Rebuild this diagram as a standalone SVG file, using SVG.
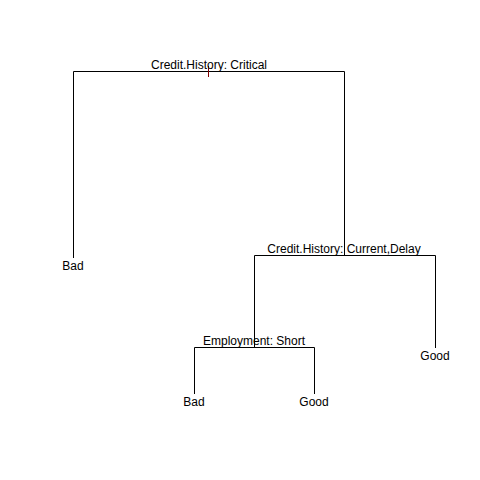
<svg xmlns="http://www.w3.org/2000/svg" width="480" height="480" viewBox="0 0 480 480">
<style>
text{font-family:"Liberation Sans",Arial,sans-serif;font-size:12px;fill:#000;text-anchor:middle}
.e{stroke:#000;stroke-width:1;fill:none}
</style>
<rect width="480" height="480" fill="#fff"/>
<g id="connectors">
<path class="e" d="M73.5,258V71.5H344.5V255"/>
<path class="e" d="M254.5,347V255.5H435.5V348"/>
<path class="e" d="M194.5,394V347.5H314.5V394"/>
<path d="M208.5,66V77" stroke="#800000" stroke-width="1"/>
</g>
<g id="n1"><text x="209" y="69">Credit.History: Critical</text></g>
<g id="n2"><text x="73" y="270">Bad</text></g>
<g id="n3"><text x="344" y="253">Credit.History: Current,Delay</text></g>
<g id="n4"><text x="254" y="345">Employment: Short</text></g>
<g id="n5"><text x="435" y="360">Good</text></g>
<g id="n6"><text x="194" y="406">Bad</text></g>
<g id="n7"><text x="314" y="406">Good</text></g>
</svg>
